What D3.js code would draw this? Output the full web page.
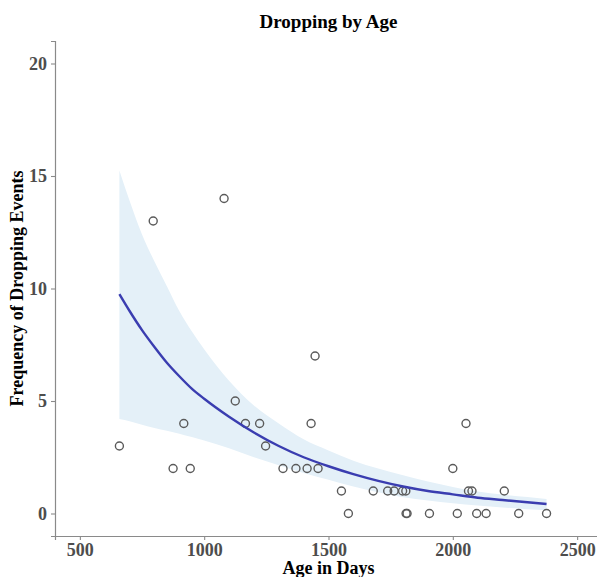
<!DOCTYPE html>
<html>
<head>
<meta charset="utf-8">
<script src="https://cdn.jsdelivr.net/npm/d3@7"></script>
<style>
  html, body { margin: 0; padding: 0; background: #fff; }
  svg { display: block; }
  text { font-family: "Liberation Serif", "Times New Roman", serif; font-weight: bold; }
</style>
</head>
<body>
<svg id="chart" width="597" height="577"></svg>
<script>
// Observed dropping events per animal, by age in days
const ages   = [659, 795, 875, 918, 944, 1080, 1125, 1166, 1223, 1247, 1317, 1369, 1414, 1430, 1446, 1458, 1552, 1580, 1680, 1738, 1764, 1798, 1811, 1812, 1816, 1906, 2000, 2018, 2053, 2063, 2077, 2096, 2134, 2207, 2265, 2377];
const counts = [3, 13, 2, 4, 2, 14, 5, 4, 4, 3, 2, 2, 2, 4, 7, 2, 1, 0, 1, 1, 1, 1, 1, 0, 0, 0, 2, 0, 4, 1, 1, 0, 0, 1, 0, 0];

// Fitted Poisson trend with its confidence band
const fitAge   = [659, 700, 750, 800, 850, 900, 950, 1000, 1100, 1200, 1300, 1400, 1500, 1600, 1700, 1800, 1900, 2000, 2100, 2200, 2300, 2377];
const fitValue = [9.75, 9.0, 8.15, 7.4, 6.7, 6.1, 5.55, 5.1, 4.3, 3.6, 3.0, 2.5, 2.1, 1.75, 1.45, 1.2, 1.0, 0.85, 0.7, 0.6, 0.5, 0.42];
const fitUpper = [15.25, 13.9, 12.4, 11.2, 10.1, 9.0, 8.1, 7.3, 5.9, 4.8, 4.0, 3.3, 2.8, 2.35, 2.0, 1.7, 1.42, 1.18, 0.98, 0.84, 0.73, 0.65];
const fitLower = [4.2, 4.1, 3.95, 3.8, 3.68, 3.55, 3.4, 3.25, 2.9, 2.5, 2.15, 1.8, 1.5, 1.2, 0.95, 0.72, 0.58, 0.46, 0.36, 0.27, 0.19, 0.14];

const xTicks = [500, 1000, 1500, 2000, 2500];
const yTicks = [0, 5, 10, 15, 20];

const svg = d3.select("#chart");
const panel = { left: 55, right: 602, top: 41, bottom: 536 };

const x = d3.scaleLinear().domain([400, 2600]).range([panel.left, panel.right]);
const y = d3.scaleLinear().domain([-1, 21]).range([panel.bottom, panel.top]);

// confidence band
const band = fitAge.map((a, i) => ({ a, lo: fitLower[i], hi: fitUpper[i] }));
svg.append("path")
  .datum(band)
  .attr("fill", "#e4f0f8")
  .attr("d", d3.area()
    .x(d => x(d.a))
    .y0(d => y(d.lo))
    .y1(d => y(d.hi))
    .curve(d3.curveMonotoneX));

// points
svg.append("g")
  .selectAll("circle")
  .data(ages.map((a, i) => ({ a, c: counts[i] })))
  .join("circle")
  .attr("cx", d => x(d.a))
  .attr("cy", d => y(d.c))
  .attr("r", 4)
  .attr("fill", "none")
  .attr("stroke", "#5a5a5a")
  .attr("stroke-width", 1.4);

// fitted line
svg.append("path")
  .datum(fitAge.map((a, i) => ({ a, v: fitValue[i] })))
  .attr("fill", "none")
  .attr("stroke", "#3a3db0")
  .attr("stroke-width", 2.4)
  .attr("d", d3.line().x(d => x(d.a)).y(d => y(d.v)).curve(d3.curveMonotoneX));

// axes
const xAxis = svg.append("g")
  .attr("transform", `translate(0,${panel.bottom})`)
  .call(d3.axisBottom(x).tickValues(xTicks).tickSize(4).tickPadding(3).tickFormat(d3.format("d")));
const yAxis = svg.append("g")
  .attr("transform", `translate(${panel.left},0)`)
  .call(d3.axisLeft(y).tickValues(yTicks).tickSize(4).tickPadding(4).tickFormat(d3.format("d")));

[xAxis, yAxis].forEach(g => {
  g.select(".domain").attr("stroke", "#8a8a8a").attr("stroke-width", 1.2);
  g.selectAll(".tick line").attr("stroke", "#8a8a8a").attr("stroke-width", 1.1);
  g.selectAll(".tick text")
    .attr("fill", "#4d4d4d")
    .style("font-size", "18px")
    .style("font-family", "'Liberation Serif', serif")
    .style("font-weight", "bold");
});

// titles
const cx = (panel.left + panel.right) / 2;
svg.append("text")
  .attr("x", cx).attr("y", 28)
  .attr("text-anchor", "middle")
  .style("font-size", "19px")
  .attr("fill", "#000")
  .text("Dropping by Age");

svg.append("text")
  .attr("x", cx).attr("y", 574)
  .attr("text-anchor", "middle")
  .style("font-size", "18px")
  .attr("fill", "#000")
  .text("Age in Days");

svg.append("text")
  .attr("transform", `translate(23,${(panel.top + panel.bottom) / 2}) rotate(-90)`)
  .attr("text-anchor", "middle")
  .style("font-size", "18px")
  .attr("fill", "#000")
  .text("Frequency of Dropping Events");
</script>
</body>
</html>
